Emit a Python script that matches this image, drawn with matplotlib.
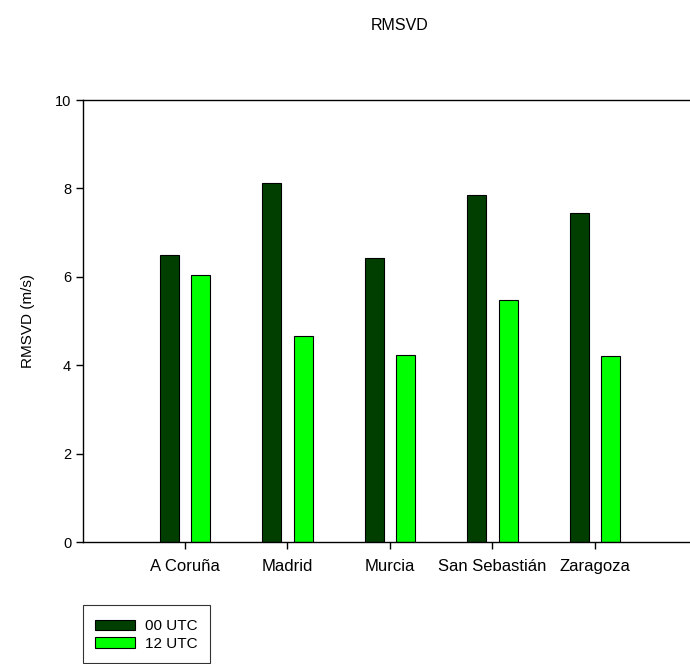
import matplotlib
matplotlib.use("Agg")
import matplotlib.pyplot as plt
from matplotlib.patches import Rectangle
from matplotlib.legend_handler import HandlerPatch
import numpy as np

plt.rcParams['font.family'] = ['Liberation Sans', 'DejaVu Sans']

categories = ["A Coruña", "Madrid", "Murcia", "San Sebastián", "Zaragoza"]
utc00 = [6.50, 8.13, 6.43, 7.85, 7.45]
utc12 = [6.03, 4.66, 4.24, 5.48, 4.20]
series_labels = ["00 UTC", "12 UTC"]
colors = ["#003f00", "#00ff00"]

W, H = 690, 664
fig = plt.figure(figsize=(W / 100, H / 100), dpi=100)
x0, x5 = 83, 697.5
ax = fig.add_axes([x0 / W, 1 - 542 / H, (x5 - x0) / W, (542 - 100) / H])

x = np.arange(len(categories))
width = 0.185
off = 0.155
b1 = ax.bar(x - off, utc00, width, color=colors[0], edgecolor="black", linewidth=0.8, label=series_labels[0])
b2 = ax.bar(x + off, utc12, width, color=colors[1], edgecolor="black", linewidth=0.8, label=series_labels[1])

ax.set_xlim(-0.995, 5)
ax.set_ylim(0, 10)
ax.set_yticks([0, 2, 4, 6, 8, 10])
ax.set_xticks(x)
ax.set_xticklabels(categories, fontsize=12)
ax.tick_params(axis="y", labelsize=10.5, direction="out", length=5, width=1)
ax.tick_params(axis="x", direction="out", length=5, width=1, pad=7)
for s in ax.spines.values():
    s.set_linewidth(1)
ax.set_ylabel("RMSVD (m/s)", fontsize=11, labelpad=14)

fig.text(400 / W, 1 - 26 / H, "RMSVD", ha="center", va="center", fontsize=11.5)


def small_rect(legend, orig_handle, xdescent, ydescent, width, height, fontsize):
    h = 7.7
    return Rectangle((-xdescent, -ydescent + (height - h) / 2), width, h)


h1, h2 = b1.patches[0], b2.patches[0]
leg = fig.legend(handles=[h1, h2], labels=series_labels, loc="upper left",
                 bbox_to_anchor=(83 / W, 1 - 605 / H), fontsize=11,
                 frameon=True, fancybox=False, edgecolor="black",
                 handlelength=2.6, handleheight=1.18, handletextpad=0.65,
                 borderpad=0.8, labelspacing=0.1, borderaxespad=0,
                 handler_map={h1: HandlerPatch(patch_func=small_rect),
                              h2: HandlerPatch(patch_func=small_rect)})
leg.get_frame().set_linewidth(0.8)

fig.savefig("out.png", dpi=100)
